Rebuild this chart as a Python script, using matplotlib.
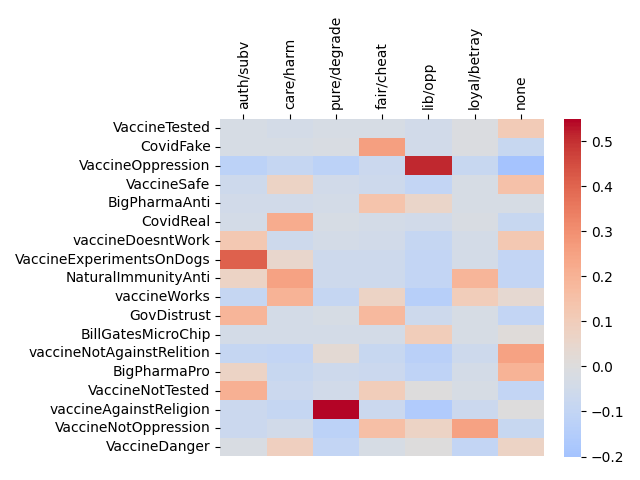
import matplotlib
matplotlib.use("Agg")
import matplotlib.pyplot as plt
import numpy as np
import pandas as pd
import seaborn as sns

frames = ["auth/subv", "care/harm", "pure/degrade", "fair/cheat", "lib/opp", "loyal/betray", "none"]
topics = ["VaccineTested", "CovidFake", "VaccineOppression", "VaccineSafe", "BigPharmaAnti",
          "CovidReal", "vaccineDoesntWork", "VaccineExperimentsOnDogs", "NaturalImmunityAnti",
          "vaccineWorks", "GovDistrust", "BillGatesMicroChip", "vaccineNotAgainstRelition",
          "BigPharmaPro", "VaccineNotTested", "vaccineAgainstReligion", "VaccineNotOppression",
          "VaccineDanger"]

# correlation of each topic with each moral frame
corr = [
    [-0.03, -0.04, -0.03, -0.03, -0.05, -0.01, 0.11],
    [-0.03, -0.03, -0.02, 0.26, -0.05, -0.01, -0.08],
    [-0.12, -0.09, -0.12, -0.07, 0.51, -0.08, -0.20],
    [-0.06, 0.07, -0.05, -0.06, -0.10, -0.03, 0.15],
    [-0.05, -0.05, -0.04, 0.14, 0.06, -0.03, -0.03],
    [-0.04, 0.22, -0.03, -0.04, -0.05, -0.02, -0.08],
    [0.12, -0.06, -0.04, -0.05, -0.09, -0.04, 0.12],
    [0.41, 0.05, -0.06, -0.06, -0.10, -0.04, -0.10],
    [0.07, 0.25, -0.06, -0.06, -0.10, 0.19, -0.10],
    [-0.09, 0.20, -0.09, 0.07, -0.14, 0.10, 0.04],
    [0.19, -0.04, -0.03, 0.18, -0.06, -0.03, -0.10],
    [-0.04, -0.04, -0.04, -0.04, 0.10, -0.03, 0.01],
    [-0.09, -0.10, 0.03, -0.08, -0.13, -0.06, 0.25],
    [0.07, -0.08, -0.06, -0.07, -0.11, -0.04, 0.20],
    [0.21, -0.07, -0.05, 0.10, 0.00, -0.03, -0.10],
    [-0.07, -0.09, 0.55, -0.07, -0.16, -0.07, 0.00],
    [-0.07, -0.05, -0.12, 0.16, 0.07, 0.25, -0.08],
    [-0.02, 0.09, -0.10, -0.03, 0.00, -0.10, 0.07],
]

df = pd.DataFrame(np.array(corr), index=topics, columns=frames)

fig, ax = plt.subplots(figsize=(6.4, 4.8))
sns.heatmap(df, cmap="coolwarm", center=0, ax=ax)
ax.xaxis.tick_top()
plt.xticks(rotation=90)
plt.yticks(rotation=0)
plt.tight_layout()
plt.savefig("out.png", dpi=100)
